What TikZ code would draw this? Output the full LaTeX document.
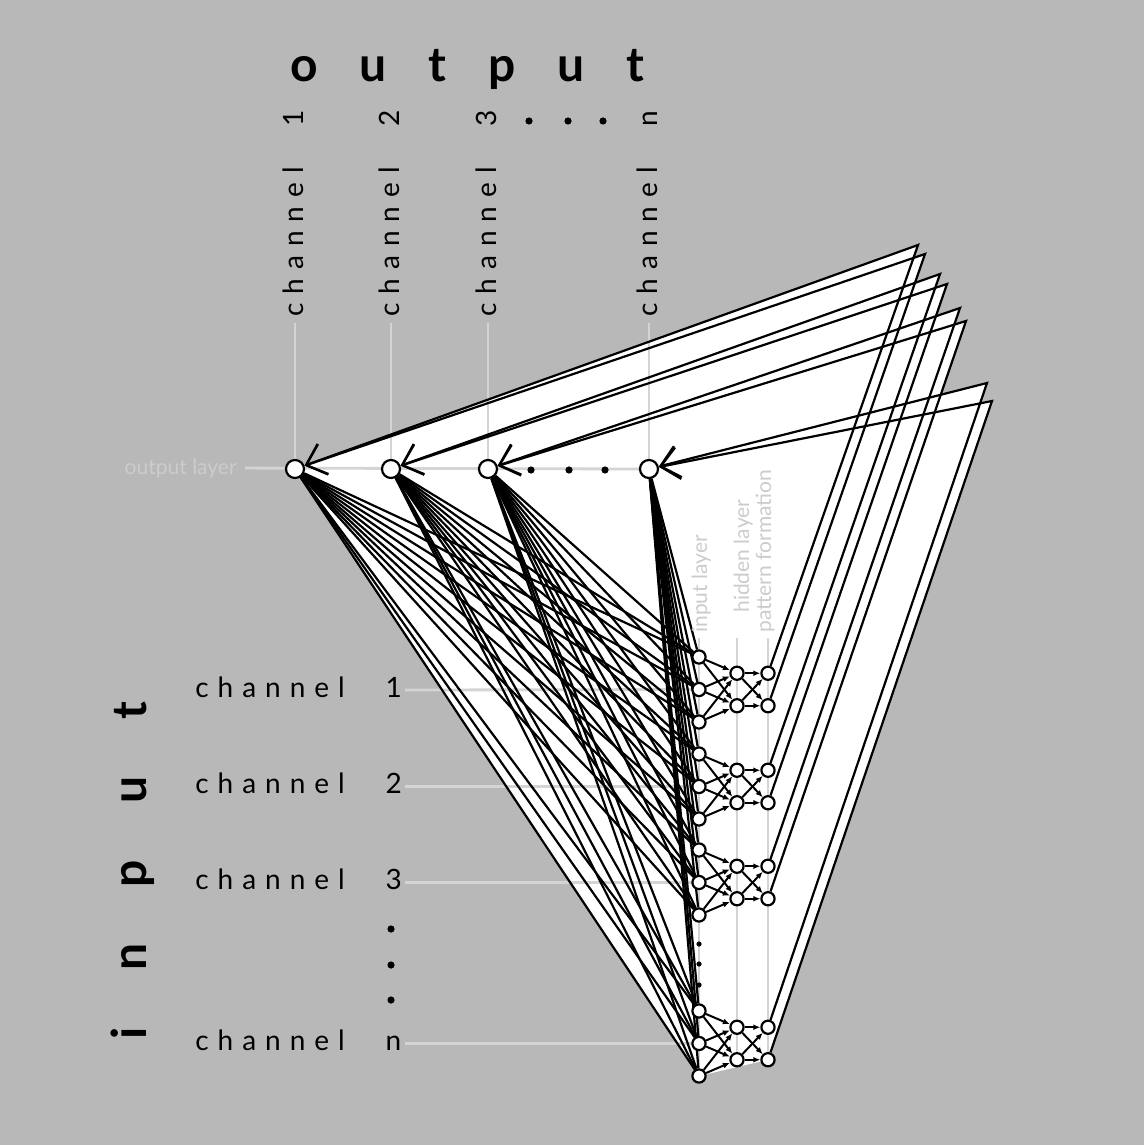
\documentclass[tikz,border=0pt]{standalone}
\usepackage{fontspec}
\setmainfont{Lato}
\newfontfamily\chfont[LetterSpace=32]{Lato}
\newfontfamily\outfont[LetterSpace=87]{Lato}
\newfontfamily\infont[LetterSpace=118]{Lato}
\usetikzlibrary{arrows.meta}
\definecolor{bg}{RGB}{184,184,184}
\definecolor{guidec}{RGB}{212,212,212}
\definecolor{labc}{RGB}{204,204,204}
\pgfdeclarelayer{back}
\pgfdeclarelayer{mid}
\pgfsetlayers{back,mid,main}
\begin{document}
\begin{tikzpicture}[x=0.5pt,y=-0.5pt,
  onode/.style={circle,draw=black,fill=white,minimum size=9pt,inner sep=0pt,line width=1.1pt},
  inode/.style={circle,draw=black,fill=white,minimum size=6.6pt,inner sep=0pt,line width=1.1pt},
  guide/.style={draw=guidec,line width=1.4pt},
  link/.style={draw=black,line width=1.1pt},
  smallarr/.style={draw=black,line width=1pt,-{Latex[length=3.5pt,width=3pt]}},
  backarr/.style={draw=black,line width=1.1pt,miter limit=20,-{Straight Barb[length=9pt,width=16pt]}},
  chlab/.style={font=\chfont\fontsize{14pt}{16pt}\selectfont,inner sep=0pt,anchor=base west},
  chlabv/.style={chlab,rotate=90},
  biglab/.style={inner sep=0pt,anchor=base west},
  smalllab/.style={font=\fontsize{10.5pt}{12pt}\selectfont,text=labc,inner sep=0pt},
  dot/.style={fill=black}
]
\useasboundingbox (0,0) rectangle (1144,1145);

% ---------- nodes ----------
\node[onode] (O1) at (295,469) {};
\node[onode] (O2) at (391,469) {};
\node[onode] (O3) at (488,469) {};
\node[onode] (On) at (649,469) {};

\foreach \ci/\ya in {1/657,2/754,3/850,4/1011}{
  \node[inode] (I\ci1) at (699,\ya) {};
  \node[inode] (I\ci2) at (699,\ya+32.5) {};
  \node[inode] (I\ci3) at (699,\ya+65) {};
  \node[inode] (H\ci1) at (737,\ya+16.25) {};
  \node[inode] (H\ci2) at (737,\ya+48.75) {};
  \node[inode] (P\ci1) at (768,\ya+16.25) {};
  \node[inode] (P\ci2) at (768,\ya+48.75) {};
}

\coordinate (T11) at (918,245);
\coordinate (T12) at (925,254);
\coordinate (T21) at (940,274);
\coordinate (T22) at (947,284);
\coordinate (T31) at (960,308);
\coordinate (T32) at (966,321);
\coordinate (T41) at (987,383);
\coordinate (T42) at (992,401);

% guide end points
\coordinate (g1) at (295,323);
\coordinate (g2) at (391,323);
\coordinate (g3) at (488,323);
\coordinate (g4) at (649,323);
\coordinate (h1) at (405,690);
\coordinate (h2) at (405,786.5);
\coordinate (h3) at (405,882.5);
\coordinate (h4) at (405,1043.5);
\coordinate (lin) at (699,638);
\coordinate (lhid) at (737,638);
\coordinate (lpat) at (768,638);

% ---------- labels ----------
\node[biglab,font=\outfont\bfseries\fontsize{24pt}{28pt}\selectfont] (outtitle) at (290,82) {output};
\node[biglab,rotate=90,font=\infont\bfseries\fontsize{24pt}{28pt}\selectfont] (intitle) at (146,1040) {input};

\node[chlabv] (oc1) at (303,317) {channel\hspace{20.5pt}1};
\node[chlabv] (oc2) at (399,317) {channel\hspace{20.5pt}2};
\node[chlabv] (oc3) at (496,317) {channel\hspace{20.5pt}3};
\node[chlabv] (ocn) at (657,317) {channel\hspace{20.5pt}n};

\node[chlab] (ic1) at (195,697) {channel\hspace{20.5pt}1};
\node[chlab] (ic2) at (195,793.5) {channel\hspace{20.5pt}2};
\node[chlab] (ic3) at (195,889.5) {channel\hspace{20.5pt}3};
\node[chlab] (icn) at (195,1050.5) {channel\hspace{20.5pt}n};

\node[smalllab,anchor=base east] (olay) at (237,474) {output layer};
\node[smalllab,anchor=base west,rotate=90] (ilay) at (707,633) {input layer};
\node[smalllab,anchor=base west,rotate=90] (hlay) at (749,613) {hidden layer};
\node[smalllab,anchor=base west,rotate=90] (play) at (771,633) {pattern formation};

% dots
\fill[dot] (529,121) circle (3.6) (568,121) circle (3.6) (603,121) circle (3.6);
\fill[dot] (531,470) circle (3.6) (569,470) circle (3.6) (605,470) circle (3.6);
\fill[dot] (391,929) circle (3.6) (391,965) circle (3.6) (391,1000) circle (3.6);
\fill[dot] (699,944) circle (2.6) (699,964) circle (2.6) (699,985) circle (2.6);

% ---------- background, white areas, guides ----------
\begin{pgfonlayer}{back}
  \fill[bg] (0,0) rectangle (1144,1145);
  \foreach \q in {O1,O2,O3,On}{
    \fill[white] (\q.center) -- (I11.center) -- (I43.center) -- cycle;
  }
  \foreach \q/\ci in {O1/1,O2/2,O3/3,On/4}{
    \fill[white] (\q.center) -- (T\ci1) -- (P\ci1.center) -- cycle;
    \fill[white] (\q.center) -- (T\ci2) -- (P\ci2.center) -- cycle;
  }
  \fill[white] (I11.center) -- (P11.center) -- (P42.center) -- (I43.center) -- cycle;
  % guides
  \draw[guide] (olay.east) ++(4pt,0) -- (On.center);
  \draw[guide] (g1) -- (O1.center);
  \draw[guide] (g2) -- (O2.center);
  \draw[guide] (g3) -- (O3.center);
  \draw[guide] (g4) -- (On.center);
  \draw[guide] (h1) -- (I12.center);
  \draw[guide] (h2) -- (I22.center);
  \draw[guide] (h3) -- (I32.center);
  \draw[guide] (h4) -- (I42.center);
  \draw[guide] (lin) -- (I43.center);
  \draw[guide] (lhid) -- (H42.center);
  \draw[guide] (lpat) -- (P42.center);
\end{pgfonlayer}

% ---------- connectors ----------
\begin{pgfonlayer}{mid}
  \foreach \q in {O1,O2,O3,On}{
    \foreach \ci in {1,2,3,4}{
      \foreach \ri in {1,2,3}{
        \draw[link] (\q) -- (I\ci\ri);
      }
    }
  }
  \foreach \ci in {1,2,3,4}{
    \foreach \ri in {1,2,3}{
      \foreach \hi in {1,2}{
        \draw[smallarr] (I\ci\ri) -- (H\ci\hi);
      }
    }
    \foreach \hi in {1,2}{
      \foreach \pj in {1,2}{
        \draw[smallarr] (H\ci\hi) -- (P\ci\pj);
      }
    }
  }
  \foreach \q/\ci in {O1/1,O2/2,O3/3,On/4}{
    \draw[backarr] (P\ci1) -- (T\ci1) -- (\q);
    \draw[backarr] (P\ci2) -- (T\ci2) -- (\q);
  }
\end{pgfonlayer}
\end{tikzpicture}
\end{document}
